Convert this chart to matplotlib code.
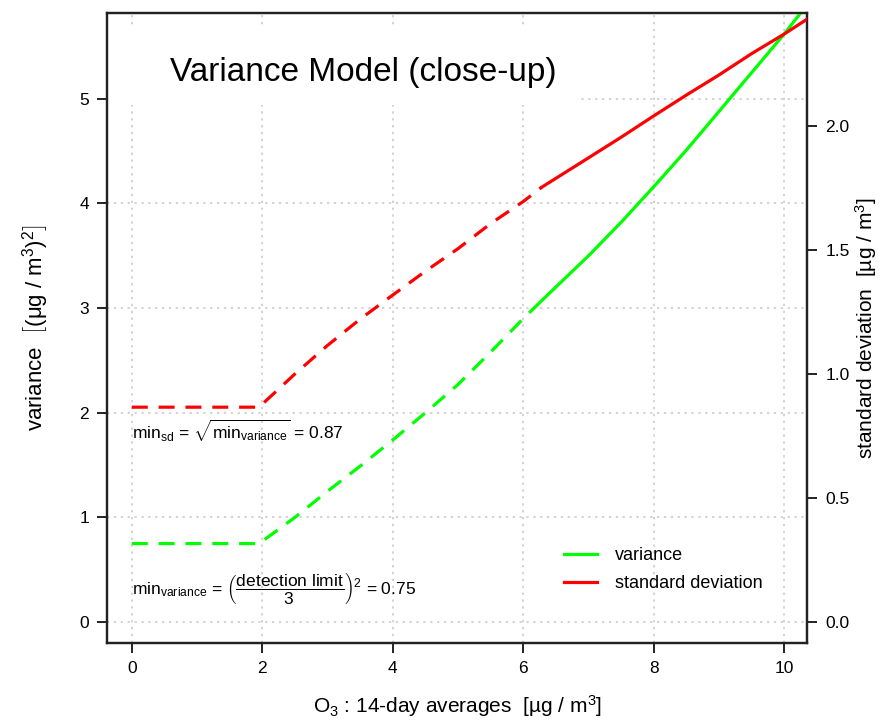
import matplotlib.pyplot as plt
from matplotlib.patches import Rectangle

plt.rcParams['font.family'] = ['Liberation Sans', 'DejaVu Sans']
plt.rcParams['mathtext.fontset'] = 'custom'
plt.rcParams['mathtext.rm'] = 'Liberation Sans'
plt.rcParams['mathtext.it'] = 'Liberation Sans:italic'
plt.rcParams['mathtext.bf'] = 'Liberation Sans:bold'

# model below the data range (drawn dashed)
x_low = [0.0, 1.95, 2.5, 3.0, 3.5, 4.0, 4.5, 5.0, 5.5, 6.0, 6.28]
var_low = [0.75, 0.75, 1.00, 1.25, 1.49, 1.74, 2.00, 2.27, 2.58, 2.90, 3.07]
sd_low = [0.866, 0.866, 1.000, 1.115, 1.221, 1.318, 1.414, 1.505, 1.606, 1.695, 1.752]

# model within the data range (solid)
x_high = [6.28, 7.0, 7.5, 8.0, 8.5, 9.0, 9.5, 10.0, 10.35]
var_high = [3.07, 3.50, 3.82, 4.16, 4.51, 4.88, 5.25, 5.62, 5.90]
sd_high = [1.752, 1.871, 1.954, 2.040, 2.124, 2.205, 2.291, 2.370, 2.430]

x_ticks = [0, 2, 4, 6, 8, 10]
var_ticks = [0, 1, 2, 3, 4, 5]
sd_ticks = [0.0, 0.5, 1.0, 1.5, 2.0]

green = '#00FF00'
red = '#FF0000'
dash = (5.0, 3.4)

fig = plt.figure(figsize=(8.85, 7.21), dpi=100)
ax = fig.add_axes([0.1209, 0.1082, 0.7911, 0.8738])
ax2 = ax.twinx()

xlim = (-0.38, 10.35)
ylim = (-0.2, 5.82)
ax.set_xlim(*xlim)
ax.set_ylim(*ylim)
# right axis scaled so both share the same pixel origin
ax2.set_ylim(-0.2 * 104.6 / 248, 5.82 * 104.6 / 248)

for g in x_ticks:
    ax.axvline(g, color='#c8c8c8', ls=(0, (1.5, 3)), lw=1.1, zorder=0)
for g in var_ticks:
    ax.axhline(g, color='#c8c8c8', ls=(0, (1.5, 3)), lw=1.1, zorder=0)

# white box behind the title
ax.add_patch(Rectangle((0, 0.854), 0.673, 0.124, transform=ax.transAxes,
                       facecolor='white', edgecolor='none', zorder=1))
ax.text(0.09, 0.905, 'Variance Model (close-up)', transform=ax.transAxes,
        fontsize=24, va='center', ha='left', zorder=2)

ax.plot(x_low, var_low, color=green, lw=2.3, dashes=dash, zorder=3)
ax.plot(x_high, var_high, color=green, lw=2.3, zorder=3)
ax2.plot(x_low, sd_low, color=red, lw=2.3, dashes=dash, zorder=3)
ax2.plot(x_high, sd_high, color=red, lw=2.3, zorder=3)

ax.text(0.0, 1.83, r'min$_{\mathrm{sd}}$ = $\sqrt{\mathrm{min}_{\mathrm{variance}}}$ = 0.87',
        fontsize=12.5, va='center', ha='left', zorder=4)
ax.text(0.0, 0.33,
        r'min$_{\mathrm{variance}}$ = $\left(\dfrac{\mathrm{detection\ limit}}{3}\right)^2$ = 0.75',
        fontsize=12.5, va='center', ha='left', zorder=4)

ax.set_xticks(x_ticks)
ax.set_yticks(var_ticks)
ax2.set_yticks(sd_ticks)
ax2.set_yticklabels(['0.0', '0.5', '1.0', '1.5', '2.0'])
ax.set_xlim(*xlim)
ax.set_ylim(*ylim)

for a in (ax, ax2):
    for s in a.spines.values():
        s.set_linewidth(1.6)
        s.set_color('#222222')
    a.tick_params(direction='out', length=7, width=1.4, labelsize=12.5, pad=6,
                  color='#222222')

ax.set_xlabel('O$_3$ : 14-day averages  [µg / m$^3$]', fontsize=15)
ax.xaxis.set_label_coords(0.5, -0.079)
ax.set_ylabel(r'variance  $\left[(\mathrm{\mu g}\ /\ \mathrm{m}^3)^2\right]$', fontsize=16)
ax.yaxis.set_label_coords(-0.08, 0.5)
ax2.set_ylabel('standard deviation  [µg / m$^3$]', fontsize=15)
ax2.yaxis.set_label_coords(1.066, 0.5)

h1, = ax.plot([], [], color=green, lw=2.3, label='variance')
h2, = ax.plot([], [], color=red, lw=2.3, label='standard deviation')
ax.legend(handles=[h1, h2], loc='lower left', bbox_to_anchor=(0.63, 0.055),
          frameon=False, fontsize=13, handlelength=1.8, handletextpad=1.0,
          labelspacing=0.6)

fig.savefig('out.png', dpi=100)
